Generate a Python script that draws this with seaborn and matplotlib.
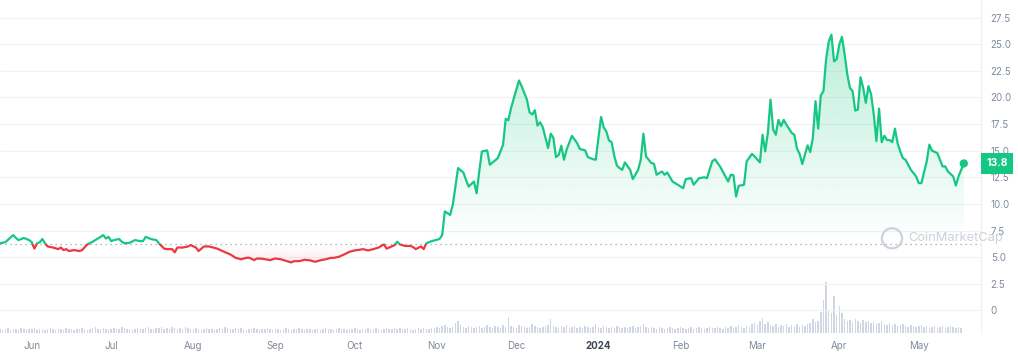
import numpy as np
import pandas as pd
import matplotlib
matplotlib.use("Agg")
import matplotlib.pyplot as plt
import matplotlib.dates as mdates
import matplotlib.transforms as mtransforms
from matplotlib.colors import to_rgb
from matplotlib.patches import Rectangle
import seaborn as sns

# Datos (dias desde 2023-05-20)
inicio = "2023-05-20"
dias = [0, 2, 5, 6, 7, 9, 11, 12, 13, 14, 15, 16, 17, 18, 20, 22, 23, 24, 25, 26,
        28, 30, 31, 33, 35, 37, 38, 39, 40, 41, 42, 43, 45, 46, 47, 49, 51, 53, 54, 55,
        57, 59, 60, 62, 63, 65, 66, 67, 69, 71, 72, 74, 75, 77, 79, 82, 84, 87, 89, 91,
        93, 94, 96, 97, 99, 102, 104, 106, 108, 110, 111, 113, 115, 117, 119, 121, 123, 125, 126, 128,
        130, 132, 134, 136, 137, 139, 141, 143, 145, 146, 147, 149, 150, 151, 153, 155, 156, 157, 159, 160,
        161, 163, 166, 167, 168, 170, 171, 173, 175, 176, 177, 179, 180, 181, 182, 184, 185, 187, 188, 190,
        191, 192, 193, 196, 197, 199, 200, 201, 202, 203, 204, 205, 207, 208, 209, 210, 211, 212, 213, 214,
        216, 218, 219, 221, 222, 224, 225, 227, 228, 229, 230, 231, 232, 233, 234, 235, 236, 238, 239, 241,
        242, 243, 244, 246, 247, 248, 250, 251, 252, 254, 256, 258, 259, 261, 262, 264, 266, 267, 269, 270,
        272, 275, 276, 277, 278, 279, 281, 282, 284, 285, 287, 288, 289, 290, 291, 292, 293, 294, 295, 296,
        297, 299, 300, 301, 302, 303, 305, 306, 307, 308, 309, 310, 311, 312, 313, 314, 315, 316, 317, 318,
        319, 320, 321, 322, 323, 324, 325, 326, 327, 328, 329, 330, 331, 332, 333, 334, 335, 336, 337, 338,
        339, 340, 341, 342, 344, 345, 346, 347, 348, 350, 351, 352, 354, 356, 357, 358, 360, 361, 362, 364]
precio = [6.3, 6.4, 7.07, 6.8, 6.6, 6.8, 6.6, 6.4, 5.8, 6.3, 6.4, 6.7, 6.3, 6.0, 5.9, 5.75, 5.9, 5.66, 5.75, 5.57,
          5.66, 5.57, 5.66, 6.2, 6.45, 6.75, 6.9, 7.07, 6.75, 6.9, 6.5, 6.6, 6.7, 6.45, 6.3, 6.35, 6.6, 6.5, 6.5, 6.9,
          6.7, 6.6, 6.3, 5.8, 5.75, 5.75, 5.45, 5.9, 5.9, 6.0, 6.13, 5.9, 5.57, 6.0, 6.0, 5.8, 5.57, 5.25, 4.93, 4.8,
          4.93, 4.95, 4.72, 4.87, 4.85, 4.72, 4.87, 4.8, 4.65, 4.5, 4.62, 4.62, 4.75, 4.7, 4.56, 4.7, 4.8, 4.93, 4.93, 5.03,
          5.25, 5.5, 5.63, 5.7, 5.75, 5.63, 5.75, 5.9, 6.2, 5.8, 5.9, 6.13, 6.45, 6.2, 6.05, 6.05, 5.95, 5.75, 6.0, 5.75,
          6.3, 6.5, 6.7, 7.07, 9.3, 8.96, 9.9, 13.37, 12.95, 12.26, 11.63, 12.1, 11.0, 13.05, 14.93, 15.03, 13.68, 14.1, 14.3, 15.57,
          18.0, 17.86, 19.0, 21.6, 21.07, 19.8, 18.6, 18.4, 18.8, 17.36, 17.67, 17.2, 15.25, 16.6, 16.2, 14.4, 14.6, 15.47, 14.15, 15.1,
          16.4, 15.7, 15.16, 15.03, 14.4, 14.2, 14.15, 18.17, 17.2, 16.8, 15.97, 15.8, 14.5, 13.6, 13.37, 13.2, 13.9, 13.2, 12.33, 13.2,
          14.15, 16.6, 14.46, 13.84, 13.77, 12.74, 13.05, 12.74, 12.95, 12.1, 11.8, 11.48, 12.33, 12.42, 11.8, 12.42, 12.5, 12.42, 14.0, 14.2,
          13.5, 12.1, 12.74, 12.7, 10.7, 11.7, 11.8, 14.0, 14.7, 14.46, 13.9, 16.5, 14.93, 16.67, 19.8, 17.0, 16.5, 17.9, 17.3, 17.9,
          17.45, 16.67, 16.5, 15.2, 14.7, 13.75, 15.5, 14.87, 16.2, 19.65, 17.07, 20.2, 20.6, 23.6, 25.25, 25.9, 23.4, 23.6, 25.0, 25.7,
          24.06, 22.17, 20.9, 20.6, 18.77, 18.87, 21.9, 20.9, 19.5, 21.07, 20.3, 18.4, 15.9, 18.96, 15.8, 16.4, 16.0, 16.0, 15.8, 17.07,
          15.7, 14.93, 14.3, 14.15, 13.2, 12.9, 12.58, 11.95, 11.95, 14.0, 15.57, 15.0, 14.78, 13.52, 13.52, 13.05, 12.58, 11.73, 12.58, 13.8]

# Volumen diario (unidades relativas)
volumen = [4, 3, 4, 5, 3, 4, 4, 3, 5, 4, 3, 4, 4, 5, 3, 4, 4, 3, 4, 5, 4, 3, 4, 4, 3, 5, 4, 4, 3, 4,
           4, 5, 4, 3, 4, 5, 6, 4, 4, 5, 4, 3, 4, 5, 4, 4, 6, 5, 4, 4, 3, 4, 5, 4, 4, 5, 6, 4, 4, 5,
           5, 6, 4, 5, 4, 6, 5, 4, 5, 4, 6, 5, 4, 4, 5, 4, 3, 4, 5, 4, 4, 3, 4, 5, 4, 6, 5, 4, 4, 5,
           4, 5, 4, 3, 4, 4, 5, 4, 3, 4, 4, 5, 4, 3, 4, 4, 3, 4, 5, 4, 3, 4, 4, 5, 4, 3, 4, 4, 3, 4,
           4, 3, 4, 5, 4, 4, 3, 4, 5, 4, 4, 3, 4, 4, 5, 4, 3, 4, 4, 5, 4, 4, 5, 4, 3, 4, 5, 4, 4, 5,
           4, 5, 4, 4, 5, 4, 3, 4, 5, 4, 5, 4, 4, 5, 5, 6, 5, 7, 8, 6, 5, 6, 10, 12, 8, 6, 5, 7, 6, 5,
           6, 7, 5, 6, 8, 6, 5, 7, 6, 5, 8, 6, 16, 7, 6, 5, 8, 7, 6, 5, 6, 9, 7, 6, 5, 6, 7, 8, 14, 7,
           6, 5, 7, 6, 8, 5, 6, 7, 5, 6, 5, 7, 6, 5, 6, 9, 6, 5, 7, 6, 5, 6, 5, 7, 6, 5, 6, 5, 6, 7,
           5, 6, 7, 9, 6, 5, 6, 5, 4, 6, 5, 4, 5, 6, 5, 4, 5, 6, 5, 4, 5, 6, 4, 5, 6, 5, 4, 5, 6, 5,
           5, 6, 5, 4, 6, 5, 7, 5, 6, 8, 6, 5, 7, 6, 9, 10, 8, 12, 15, 9, 11, 8, 7, 9, 6, 8, 7, 9, 6, 8,
           7, 9, 6, 8, 7, 9, 10, 14, 11, 12, 21, 33, 51, 23, 20, 37, 18, 27, 20, 14, 12, 13, 11, 14, 12, 10, 13, 11, 12, 10,
           11, 9, 10, 12, 9, 8, 10, 8, 9, 7, 8, 9, 7, 6, 8, 7, 6, 7, 8, 6, 7, 5, 6, 7, 5, 6, 7, 5, 6, 7, 6, 5, 6, 5]

meses = ["2023-06-01", "2023-07-01", "2023-08-01", "2023-09-01", "2023-10-01", "2023-11-01",
         "2023-12-01", "2024-01-01", "2024-02-01", "2024-03-01", "2024-04-01", "2024-05-01"]
etiquetas_meses = ["Jun", "Jul", "Aug", "Sep", "Oct", "Nov", "Dec", "2024", "Feb", "Mar", "Apr", "May"]
ticks_y = [0, 2.5, 5, 7.5, 10, 12.5, 15, 17.5, 20, 22.5, 25, 27.5]
etiquetas_y = ["0", "2.5", "5.0", "7.5", "10.0", "12.5", "15.0", "17.5", "20.0", "22.5", "25.0", "27.5"]
base = 6.2

verde = "#16c784"
rojo = "#ea3943"
gris = "#808a9d"

t0 = pd.Timestamp(inicio)
df = pd.DataFrame({"fecha": t0 + pd.to_timedelta(dias, unit="D"), "precio": precio})
dfv = pd.DataFrame({"fecha": t0 + pd.to_timedelta(np.arange(len(volumen)), unit="D"), "volumen": volumen})

sns.set_theme(style="white")
plt.rcParams["font.family"] = ["Inter", "DejaVu Sans"]

fig = plt.figure(figsize=(10.18, 3.56), dpi=100)
pos = [0, 23 / 356, 981 / 1018, 333 / 356]
ax_vol = fig.add_axes(pos)
ax = fig.add_axes(pos, sharex=ax_vol)
ax.patch.set_alpha(0)

# Volumen
ax_vol.bar(dfv["fecha"], dfv["volumen"], width=0.55, color="#d0d6e2", linewidth=0)
ax_vol.set_ylim(0, 333)
ax_vol.axis("off")

x0 = mdates.date2num(df["fecha"].iloc[0])
x1 = mdates.date2num(df["fecha"].iloc[-1])

# Rellenos con degradado
poly = ax.fill_between(df["fecha"], df["precio"], base, color="none", lw=0)
ruta = poly.get_paths()[0]

g = np.zeros((256, 1, 4))
g[..., :3] = to_rgb(verde)
g[:, 0, 3] = np.linspace(0.0, 0.30, 256)
im = ax.imshow(g, extent=[x0, x1, base, 26.5], origin="lower", aspect="auto", zorder=1)
im.set_clip_path(ruta, transform=ax.transData)

r = np.zeros((256, 1, 4))
r[..., :3] = to_rgb(rojo)
r[:, 0, 3] = np.linspace(0.11, 0.0, 256)
im2 = ax.imshow(r, extent=[x0, x1, 4.3, base], origin="lower", aspect="auto", zorder=1)
im2.set_clip_path(ruta, transform=ax.transData)

# Linea de precio (verde sobre la base, roja debajo)
sns.lineplot(data=df, x="fecha", y="precio", color=verde, linewidth=1.6, ax=ax, zorder=3)
ax.lines[-1].set_clip_path(Rectangle((x0 - 50, base), 600, 100, transform=ax.transData))
sns.lineplot(data=df, x="fecha", y="precio", color=rojo, linewidth=1.6, ax=ax, zorder=3)
ax.lines[-1].set_clip_path(Rectangle((x0 - 50, base - 100), 600, 100, transform=ax.transData))

sns.scatterplot(data=df.tail(1), x="fecha", y="precio", color=verde, s=36, edgecolor="none", ax=ax, zorder=4)

ax.axhline(base, color="#9aa1ab", linestyle=(0, (1, 3)), linewidth=0.9, zorder=2)

ax.set_xlim(t0, t0 + pd.Timedelta(days=370.5))
ax.set_ylim(-2.13, 29.16)

ax.yaxis.tick_right()
ax.set_yticks(ticks_y)
ax.set_yticklabels(etiquetas_y)
ax.set_xticks(pd.to_datetime(meses))
ax.set_xticklabels(etiquetas_meses)
ax.tick_params(axis="y", length=0, pad=7, labelsize=7, labelcolor=gris)
ax.tick_params(axis="x", length=0, pad=6, labelsize=7, labelcolor=gris)
for lbl in ax.get_xticklabels():
    if lbl.get_text() == "2024":
        lbl.set_fontweight("bold")
        lbl.set_color("#3d4452")
ax.grid(axis="y", color="#f1f2f5", linewidth=0.8)
ax.set_axisbelow(True)
ax.set_xlabel("")
ax.set_ylabel("")
for s in ["top", "left", "bottom"]:
    ax.spines[s].set_visible(False)
ax.spines["right"].set_color("#eef0f3")
ax.spines["right"].set_linewidth(0.8)

# Etiqueta del ultimo precio
trans = mtransforms.blended_transform_factory(ax.transAxes, ax.transData)
ax.text(1.0058, df["precio"].iloc[-1], "13.8", transform=trans, ha="left", va="center",
        color="white", fontsize=7.5, fontweight="bold", zorder=6, clip_on=False,
        bbox=dict(boxstyle="square,pad=0.5", fc=verde, ec="none"))

# Marca de agua
ax.scatter([892 / 981], [6.77], transform=trans, s=210, facecolors="none",
           edgecolors="#cdd2da", linewidths=1.6, zorder=5, clip_on=False)
ax.text(908 / 981, 6.77, "CoinMarketCap", transform=trans, ha="left", va="center",
        fontsize=9.3, color="#cdd2da", zorder=5, clip_on=False)

fig.savefig("out.png", dpi=100)
